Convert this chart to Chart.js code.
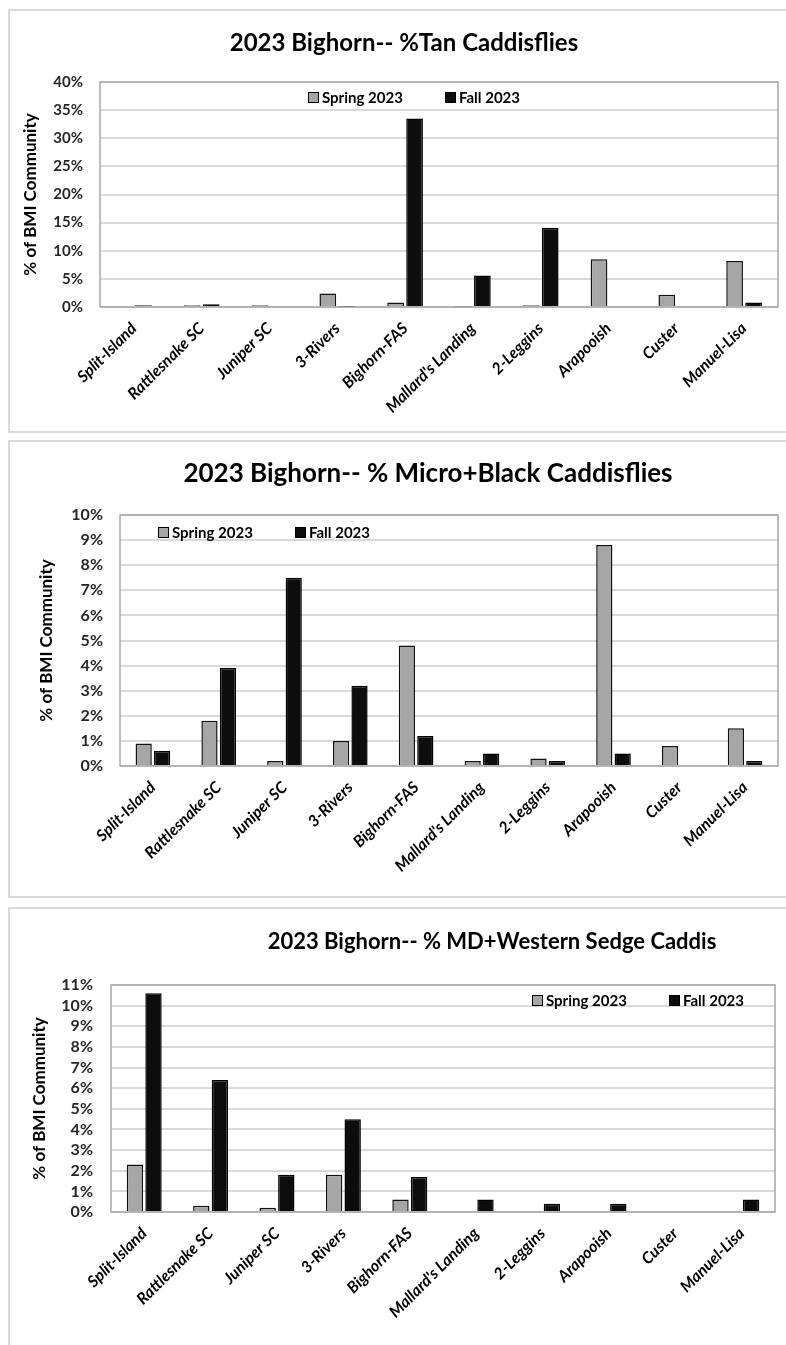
<!DOCTYPE html>
<html>
<head>
<meta charset="utf-8">
<script src="https://cdn.jsdelivr.net/npm/chart.js@4.4.1/dist/chart.umd.min.js"></script>
<style>
  html, body { margin: 0; padding: 0; background: #fff; }
  body { width: 786px; height: 1345px; position: relative; overflow: hidden; }
  .panel { position: absolute; left: 8px; width: 800px; border: 2px solid #d9d9d9; box-sizing: border-box; }
  canvas { position: absolute; left: 0; }
</style>
</head>
<body>
<div class="panel" style="top:9px;height:424px"></div>
<div class="panel" style="top:440px;height:458px"></div>
<div class="panel" style="top:907px;height:460px"></div>
<canvas id="tan" width="786" height="425" style="top:9px"></canvas>
<canvas id="micro" width="786" height="457" style="top:440px"></canvas>
<canvas id="sedge" width="786" height="438" style="top:907px"></canvas>
<script>
const sites = ['Split-Island', 'Rattlesnake SC', 'Juniper SC', '3-Rivers', 'Bighorn-FAS',
  "Mallard's Landing", '2-Leggins', 'Arapooish', 'Custer', 'Manuel-Lisa'];
const seasons = ['Spring 2023', 'Fall 2023'];

// % of BMI community
const tanSpring = [0, 0.3, 0.3, 2.4, 0.8, 0.1, 0.3, 8.5, 2.2, 8.2];
const tanFall = [0.3, 0.5, 0.2, 0.1, 33.5, 5.6, 14.1, 0, 0, 0.8];
const microSpring = [0.9, 1.8, 0.2, 1.0, 4.8, 0.2, 0.3, 8.8, 0.8, 1.5];
const microFall = [0.6, 3.9, 7.5, 3.2, 1.2, 0.5, 0.2, 0.5, 0, 0.2];
const sedgeSpring = [2.3, 0.3, 0.2, 1.8, 0.6, 0, 0, 0, 0, 0];
const sedgeFall = [10.6, 6.4, 1.8, 4.5, 1.7, 0.6, 0.4, 0.4, 0, 0.6];

const springColor = '#a6a6a6';
const fallColor = '#0d0d0d';

Chart.defaults.font.family = 'Lato, "Open Sans", sans-serif';

// grey box around the plot area
const plotFrame = {
  id: 'plotFrame',
  beforeDatasetsDraw(chart) {
    const { ctx, chartArea: a } = chart;
    ctx.save();
    ctx.strokeStyle = '#a6a6a6';
    ctx.lineWidth = 1.5;
    ctx.strokeRect(a.left, a.top, a.right - a.left, a.bottom - a.top);
    ctx.restore();
  }
};

// chart heading, placed freely
const caption = {
  id: 'caption',
  afterDraw(chart, args, opts) {
    const ctx = chart.ctx;
    ctx.save();
    ctx.font = opts.font;
    ctx.fillStyle = '#000';
    ctx.textAlign = 'center';
    ctx.textBaseline = 'middle';
    ctx.fillText(opts.text, opts.x, opts.y);
    ctx.restore();
  }
};

// legend drawn inside the plot area
const insideLegend = {
  id: 'insideLegend',
  afterDatasetsDraw(chart, args, opts) {
    const { ctx, chartArea: a } = chart;
    let x = a.left + opts.left;
    const y = a.top + opts.top;
    ctx.save();
    ctx.font = 'bold 15px Lato';
    ctx.textBaseline = 'middle';
    chart.data.datasets.forEach(ds => {
      ctx.fillStyle = ds.backgroundColor;
      ctx.fillRect(x, y - 5, 11, 11);
      ctx.strokeStyle = '#000';
      ctx.lineWidth = 1;
      ctx.strokeRect(x + 0.5, y - 4.5, 10, 10);
      ctx.fillStyle = '#000';
      ctx.fillText(ds.label, x + 14, y + 1);
      x += opts.pitch;
    });
    ctx.restore();
  }
};

function seasonChart(id, spring, fall, cfg) {
  return new Chart(document.getElementById(id), {
    type: 'bar',
    data: {
      labels: sites,
      datasets: [
        { label: seasons[0], data: spring, backgroundColor: springColor, borderColor: '#111', borderWidth: 1.5 },
        { label: seasons[1], data: fall, backgroundColor: fallColor, borderColor: '#000', borderWidth: 1.5 }
      ]
    },
    options: {
      responsive: false,
      animation: false,
      devicePixelRatio: 1,
      layout: { padding: { left: 0, right: cfg.padRight, top: cfg.padTop, bottom: 0 } },
      datasets: { bar: { categoryPercentage: 0.56, barPercentage: 0.88 } },
      plugins: {
        legend: { display: false },
        tooltip: { enabled: false },
        caption: { text: cfg.title, x: cfg.titleX, y: cfg.titleY, font: cfg.titleFont },
        insideLegend: { left: cfg.legendLeft, top: cfg.legendTop, pitch: 137 }
      },
      scales: {
        x: {
          grid: { display: false },
          border: { display: false },
          ticks: {
            minRotation: 45, maxRotation: 45, autoSkip: false, padding: 4, color: '#000',
            font: { size: 16, style: 'italic', weight: 'bold' }
          },
          afterFit: s => { s.height = cfg.xHeight; }
        },
        y: {
          min: 0,
          max: cfg.max,
          grid: { color: '#d9d9d9', lineWidth: 2, drawTicks: false },
          border: { display: false },
          ticks: {
            stepSize: cfg.step, autoSkip: false, padding: cfg.tickPad, color: '#262626',
            font: { size: cfg.tickSize, weight: 'bold' },
            callback: v => v + '%'
          },
          title: {
            display: true, text: '% of BMI Community', color: '#000',
            font: { size: 17, weight: 'bold' },
            padding: { top: cfg.axisTitlePad, bottom: 0 }
          },
          afterFit: s => { s.width = cfg.yWidth; }
        }
      }
    },
    plugins: [plotFrame, caption, insideLegend]
  });
}

seasonChart('tan', tanSpring, tanFall, {
  title: '2023 Bighorn-- %Tan Caddisflies', titleX: 404, titleY: 34, titleFont: 'bold 24px Lato',
  max: 40, step: 5, tickSize: 15, tickPad: 17, yWidth: 100, axisTitlePad: 20,
  padTop: 73, padRight: 8, xHeight: 127, legendLeft: 208, legendTop: 15
});

seasonChart('micro', microSpring, microFall, {
  title: '2023 Bighorn-- % Micro+Black Caddisflies', titleX: 428, titleY: 34, titleFont: 'bold 26px Lato',
  max: 10, step: 1, tickSize: 16, tickPad: 17, yWidth: 120, axisTitlePad: 36,
  padTop: 75, padRight: 8, xHeight: 131, legendLeft: 38, legendTop: 17
});

seasonChart('sedge', sedgeSpring, sedgeFall, {
  title: '2023 Bighorn-- % MD+Western Sedge Caddis', titleX: 492, titleY: 35, titleFont: 'bold 22px Lato',
  max: 11, step: 1, tickSize: 16, tickPad: 18, yWidth: 111, axisTitlePad: 29,
  padTop: 78, padRight: 11, xHeight: 133, legendLeft: 421, legendTop: 15
});
</script>
</body>
</html>
